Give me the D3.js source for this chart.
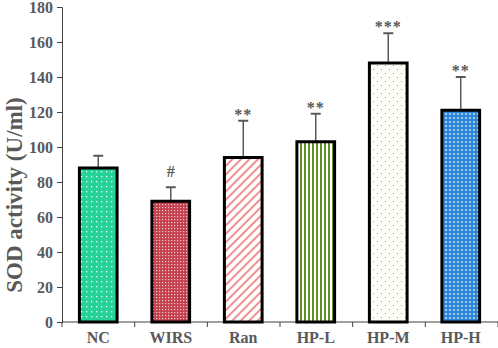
<!DOCTYPE html>
<html>
<head>
<meta charset="utf-8">
<script src="https://cdn.jsdelivr.net/npm/d3@7"></script>
<style>
  body { margin: 0; background: #fff; }
  svg text { font-family: "Liberation Serif", "Times New Roman", serif; font-weight: bold; }
</style>
</head>
<body>
<div id="chart"></div>
<script>
// SOD activity per group
const groups = ["NC", "WIRS", "Ran", "HP-L", "HP-M", "HP-H"];
const means = [88, 69, 94, 103, 148, 121];
const errors = [7, 8, 21, 16, 17, 19];
const marks = ["", "#", "**", "**", "***", "**"];
const yTicks = [0, 20, 40, 60, 80, 100, 120, 140, 160, 180];

const width = 498;
const height = 348;
const margin = { top: 7, right: 0, bottom: 26, left: 62 };

const svg = d3.select("#chart")
    .append("svg")
    .attr("width", width)
    .attr("height", height);

const defs = svg.append("defs");

// NC: green with white dots
const pNC = defs.append("pattern").attr("id", "p0").attr("width", 5).attr("height", 5)
    .attr("patternUnits", "userSpaceOnUse");
pNC.append("rect").attr("width", 5).attr("height", 5).attr("fill", "#27d19a");
pNC.append("rect").attr("x", 1).attr("y", 1).attr("width", 1.3).attr("height", 1.3).attr("fill", "#e8fff6");

// WIRS: red checker
const pW = defs.append("pattern").attr("id", "p1").attr("width", 3).attr("height", 3)
    .attr("patternUnits", "userSpaceOnUse");
pW.append("rect").attr("width", 3).attr("height", 3).attr("fill", "#c4404f");
pW.append("rect").attr("width", 1.2).attr("height", 1.2).attr("fill", "#f2c8cc");

// Ran: pink diagonal stripes
const pR = defs.append("pattern").attr("id", "p2").attr("width", 6).attr("height", 6)
    .attr("patternUnits", "userSpaceOnUse").attr("patternTransform", "rotate(45)");
pR.append("rect").attr("width", 6).attr("height", 6).attr("fill", "#fff");
pR.append("rect").attr("width", 2).attr("height", 6).attr("fill", "#f08f8f");

// HP-L: green vertical stripes
const pL = defs.append("pattern").attr("id", "p3").attr("width", 4).attr("height", 4)
    .attr("patternUnits", "userSpaceOnUse");
pL.append("rect").attr("width", 4).attr("height", 4).attr("fill", "#fff");
pL.append("rect").attr("width", 2).attr("height", 4).attr("fill", "#5f9128");

// HP-M: sparse olive dots
const pM = defs.append("pattern").attr("id", "p4").attr("width", 8).attr("height", 8)
    .attr("patternUnits", "userSpaceOnUse");
pM.append("rect").attr("width", 8).attr("height", 8).attr("fill", "#fdfdf8");
pM.append("rect").attr("x", 1).attr("y", 1).attr("width", 1).attr("height", 1).attr("fill", "#9fa66a");
pM.append("rect").attr("x", 5).attr("y", 5).attr("width", 1).attr("height", 1).attr("fill", "#9fa66a");

// HP-H: blue circles
const pH = defs.append("pattern").attr("id", "p5").attr("width", 4).attr("height", 4)
    .attr("patternUnits", "userSpaceOnUse");
pH.append("rect").attr("width", 4).attr("height", 4).attr("fill", "#2f86d6");
pH.append("circle").attr("cx", 2).attr("cy", 2).attr("r", 1.1).attr("fill", "#b7dcf7");

const x = d3.scaleBand()
    .domain(groups)
    .range([margin.left, width - margin.right - 1])
    .paddingInner(0.48)
    .paddingOuter(0.24);

const y = d3.scaleLinear()
    .domain([0, 180])
    .range([height - margin.bottom, margin.top]);

// axes
const yAxis = svg.append("g")
    .attr("transform", `translate(${margin.left},0)`)
    .call(d3.axisLeft(y).tickValues(yTicks).tickSize(5).tickPadding(4));
yAxis.select(".domain").attr("stroke", "#404040");
yAxis.selectAll(".tick line").attr("stroke", "#404040");
yAxis.selectAll("text").attr("fill", "#595959").style("font-size", "16px");

const xAxis = svg.append("g")
    .attr("transform", `translate(0,${y(0)})`);
xAxis.append("line")
    .attr("x1", margin.left).attr("x2", width)
    .attr("stroke", "#404040");
xAxis.selectAll(".cat-tick")
    .data(d3.range(groups.length + 1))
    .enter()
    .append("line")
    .attr("x1", i => margin.left + i * (width - margin.left) / groups.length)
    .attr("x2", i => margin.left + i * (width - margin.left) / groups.length)
    .attr("y1", 0).attr("y2", 5)
    .attr("stroke", "#404040");
xAxis.selectAll(".cat-label")
    .data(groups)
    .enter()
    .append("text")
    .attr("x", d => x(d) + x.bandwidth() / 2)
    .attr("y", 21)
    .attr("text-anchor", "middle")
    .attr("fill", "#595959")
    .style("font-size", "16px")
    .text(d => d);

// error bars
const err = svg.append("g");
groups.forEach((g, i) => {
    const cx = x(g) + x.bandwidth() / 2;
    err.append("line")
        .attr("x1", cx).attr("x2", cx)
        .attr("y1", y(means[i])).attr("y2", y(means[i] + errors[i]))
        .attr("stroke", "#595959").attr("stroke-width", 1.5);
    err.append("line")
        .attr("x1", cx - 5).attr("x2", cx + 5)
        .attr("y1", y(means[i] + errors[i])).attr("y2", y(means[i] + errors[i]))
        .attr("stroke", "#595959").attr("stroke-width", 2);
});

// bars
svg.append("g")
    .selectAll("rect")
    .data(groups)
    .enter()
    .append("rect")
    .attr("x", d => x(d))
    .attr("y", (d, i) => y(means[i]))
    .attr("width", x.bandwidth())
    .attr("height", (d, i) => y(0) - y(means[i]))
    .attr("fill", (d, i) => `url(#p${i})`)
    .attr("stroke", "#000")
    .attr("stroke-width", 3);

// significance marks
svg.append("g")
    .selectAll("text")
    .data(groups)
    .enter()
    .append("text")
    .attr("x", d => x(d) + x.bandwidth() / 2)
    .attr("y", (d, i) => y(means[i] + errors[i]) - (marks[i] === "#" ? 10 : 1))
    .attr("text-anchor", "middle")
    .attr("fill", "#595959")
    .style("font-size", "16px")
    .style("letter-spacing", (d, i) => marks[i] === "#" ? "0px" : "1px")
    .text((d, i) => marks[i]);

// y title
svg.append("text")
    .attr("transform", "translate(22,195) rotate(-90)")
    .attr("text-anchor", "middle")
    .attr("fill", "#595959")
    .style("font-size", "23px")
    .text("SOD activity (U/ml)");
</script>
</body>
</html>
